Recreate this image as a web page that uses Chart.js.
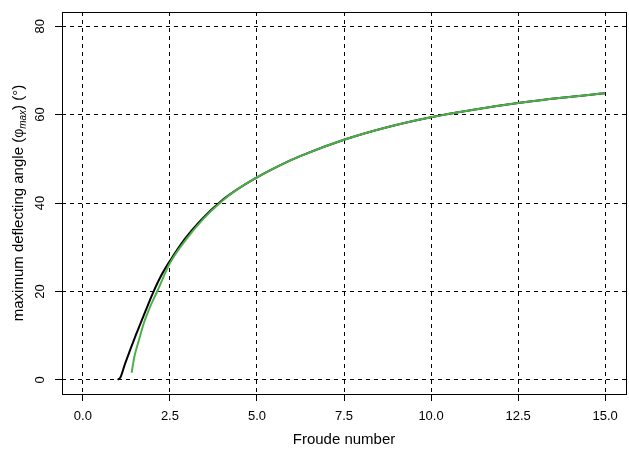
<!DOCTYPE html>
<html lang="en">
<head>
<meta charset="UTF-8">
<title>Maximum deflecting angle</title>
<script src="https://cdn.jsdelivr.net/npm/chart.js"></script>
<style>
    html, body {
        margin: 0;
        padding: 0;
        background: #fff;
    }
    canvas {
        display: block;
    }
</style>
</head>
<body>
<canvas id="phiChart" width="629" height="453"></canvas>
<script>
// exact curve (black)
const froudeExact = [1.00, 1.08, 1.20, 1.35, 1.52, 1.80, 2.02, 2.25, 2.50, 2.93, 3.46, 3.95, 4.40, 5.00, 5.60, 6.24, 7.50, 8.82, 10.00, 11.22, 12.50, 13.75, 15.00];
const phiExact    = [0.0, 0.6, 3.4, 6.6, 10.1, 15.6, 19.8, 23.6, 26.9, 31.9, 36.7, 40.3, 42.9, 45.8, 48.3, 50.6, 54.3, 57.3, 59.4, 61.1, 62.6, 63.8, 64.8];

// approximation (green)
const froudeApprox = [1.40, 1.48, 1.61, 1.75, 1.93, 2.14, 2.50, 2.95, 3.46, 3.95, 4.40, 5.00, 5.60, 6.24, 7.50, 8.82, 10.00, 11.22, 12.50, 13.75, 15.00];
const phiApprox    = [1.6, 5.3, 9.0, 12.8, 16.5, 20.1, 26.4, 31.6, 36.4, 40.1, 42.9, 45.8, 48.3, 50.6, 54.3, 57.3, 59.4, 61.1, 62.6, 63.8, 64.8];

const xTicks = [0, 2.5, 5, 7.5, 10, 12.5, 15];
const yTicks = [0, 20, 40, 60, 80];
const xLimits = [-0.6, 15.6];
const yLimits = [-3.2, 83.2];

const FONT = "'Liberation Sans', Arial, sans-serif";

function toPoints(xs, ys) {
    return xs.map((x, i) => ({ x: x, y: ys[i] }));
}

// box around the plot region, rotated y tick labels and the y axis title
const framePlugin = {
    id: 'frame',
    afterDraw(chart) {
        const ctx = chart.ctx;
        const a = chart.chartArea;
        const yScale = chart.scales.y;

        ctx.save();
        ctx.strokeStyle = '#000';
        ctx.lineWidth = 1;
        ctx.setLineDash([]);
        ctx.strokeRect(a.left + 0.5, a.top + 0.5, a.right - a.left, a.bottom - a.top);

        ctx.fillStyle = '#000';
        ctx.font = '13px ' + FONT;
        ctx.textAlign = 'center';
        ctx.textBaseline = 'middle';
        yTicks.forEach(v => {
            const py = yScale.getPixelForValue(v);
            ctx.save();
            ctx.translate(40, py);
            ctx.rotate(-Math.PI / 2);
            ctx.fillText(String(v), 0, 0);
            ctx.restore();
        });

        // "maximum deflecting angle (phi_max) (°)"
        const parts = [
            { text: 'maximum deflecting angle (', font: '15px ' + FONT, dy: 0 },
            { text: '\u03C6', font: '14px ' + FONT, dy: 0 },
            { text: 'max', font: 'italic 10px ' + FONT, dy: 4 },
            { text: ') (\u00B0)', font: '15px ' + FONT, dy: 0 }
        ];
        let total = 0;
        parts.forEach(p => {
            ctx.font = p.font;
            p.w = ctx.measureText(p.text).width;
            total += p.w;
        });
        ctx.save();
        ctx.translate(19, (a.top + a.bottom) / 2);
        ctx.rotate(-Math.PI / 2);
        ctx.textAlign = 'left';
        ctx.textBaseline = 'middle';
        let x = -total / 2;
        parts.forEach(p => {
            ctx.font = p.font;
            ctx.fillText(p.text, x, p.dy);
            x += p.w;
        });
        ctx.restore();
        ctx.restore();
    }
};

new Chart(document.getElementById('phiChart').getContext('2d'), {
    type: 'scatter',
    data: {
        datasets: [
            {
                label: 'exact',
                data: toPoints(froudeExact, phiExact),
                showLine: true,
                borderColor: '#000000',
                borderWidth: 2,
                pointRadius: 0,
                cubicInterpolationMode: 'monotone',
                order: 2
            },
            {
                label: 'approximation',
                data: toPoints(froudeApprox, phiApprox),
                showLine: true,
                borderColor: '#4daf4a',
                borderWidth: 2,
                pointRadius: 0,
                cubicInterpolationMode: 'monotone',
                order: 1
            }
        ]
    },
    options: {
        responsive: false,
        animation: false,
        layout: { padding: { top: 12, right: 3, bottom: 0, left: 0 } },
        plugins: {
            legend: { display: false },
            tooltip: { enabled: false }
        },
        scales: {
            x: {
                type: 'linear',
                min: xLimits[0],
                max: xLimits[1],
                afterBuildTicks: s => { s.ticks = xTicks.map(v => ({ value: v })); },
                afterFit: s => { s.height = 59; },
                border: { display: false, dash: [4, 4] },
                grid: {
                    color: '#000',
                    lineWidth: 1,
                    tickLength: 7,
                    tickColor: '#000',
                    tickBorderDash: []
                },
                ticks: {
                    color: '#000',
                    font: { family: FONT, size: 13 },
                    padding: 8,
                    maxRotation: 0,
                    autoSkip: false,
                    callback: v => v.toFixed(1)
                },
                title: {
                    display: true,
                    text: 'Froude number',
                    color: '#000',
                    font: { family: FONT, size: 15 },
                    padding: { top: 4, bottom: 4 }
                }
            },
            y: {
                type: 'linear',
                min: yLimits[0],
                max: yLimits[1],
                afterBuildTicks: s => { s.ticks = yTicks.map(v => ({ value: v })); },
                afterFit: s => { s.width = 62; },
                border: { display: false, dash: [4, 4] },
                grid: {
                    color: '#000',
                    lineWidth: 1,
                    tickLength: 7,
                    tickColor: '#000',
                    tickBorderDash: []
                },
                ticks: { display: false }
            }
        }
    },
    plugins: [framePlugin]
});
</script>
</body>
</html>
